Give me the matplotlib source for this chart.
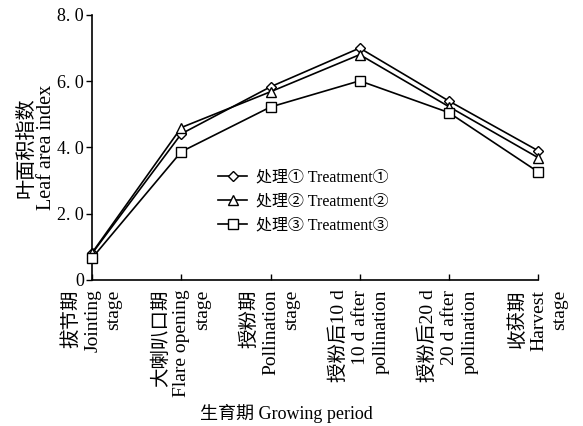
import matplotlib.pyplot as plt

plt.rcParams['font.family'] = ['Liberation Serif', 'Noto Sans CJK SC', 'DejaVu Sans']

stages = [
    "拔节期\nJointing\nstage",
    "大喇叭口期\nFlare opening\nstage",
    "授粉期\nPollination\nstage",
    "授粉后10 d\n10 d after\npollination",
    "授粉后20 d\n20 d after\npollination",
    "收获期\nHarvest\nstage",
]
t1 = [0.80, 4.41, 5.83, 7.00, 5.40, 3.90]
t2 = [0.82, 4.60, 5.68, 6.80, 5.23, 3.69]
t3 = [0.66, 3.87, 5.22, 6.01, 5.05, 3.26]
labels = ["处理① Treatment①", "处理② Treatment②", "处理③ Treatment③"]
yticks = [0, 2, 4, 6, 8]
yticklabels = ["0", "2. 0", "4. 0", "6. 0", "8. 0"]

fig = plt.figure(figsize=(5.83, 4.26), dpi=100)
ax = fig.add_axes([0.158, 0.343, 0.765, 0.622])

x = range(len(stages))
for vals, m, ms, lab in zip([t1, t2, t3], ['D', '^', 's'], [5.5, 6.5, 6.5], labels):
    ax.plot(x, vals, color='black', lw=1.2, marker=m, ms=ms,
            mfc='white', mec='black', mew=1.0,
            label=lab, clip_on=False, zorder=3)

ax.set_xlim(0, 5)
ax.set_ylim(0, 8)
ax.set_yticks(yticks)
ax.set_yticklabels(yticklabels, fontsize=13)
ax.set_xticks(list(x))
ax.set_xticklabels(stages, rotation=90, fontsize=14, ha='center', va='top',
                   multialignment='right', linespacing=1.3)
ax.tick_params(axis='y', direction='out', length=4, width=1.0, pad=2)
ax.tick_params(axis='x', direction='in', length=4, width=1.0, pad=7)
for s in ['top', 'right']:
    ax.spines[s].set_visible(False)
for s in ['left', 'bottom']:
    ax.spines[s].set_linewidth(1.2)

ax.set_ylabel("叶面积指数\nLeaf area index", fontsize=14.5, linespacing=1.0,
              labelpad=1)
fig.text(0.492, 0.03, "生育期 Growing period", fontsize=13, ha='center', va='center')

ax.legend(loc='upper left', bbox_to_anchor=(0.283, 0.416), frameon=False,
          fontsize=11.5, handlelength=1.8, handletextpad=0.55, labelspacing=0.5,
          borderaxespad=0, borderpad=0)

fig.savefig('out.png', dpi=100)
